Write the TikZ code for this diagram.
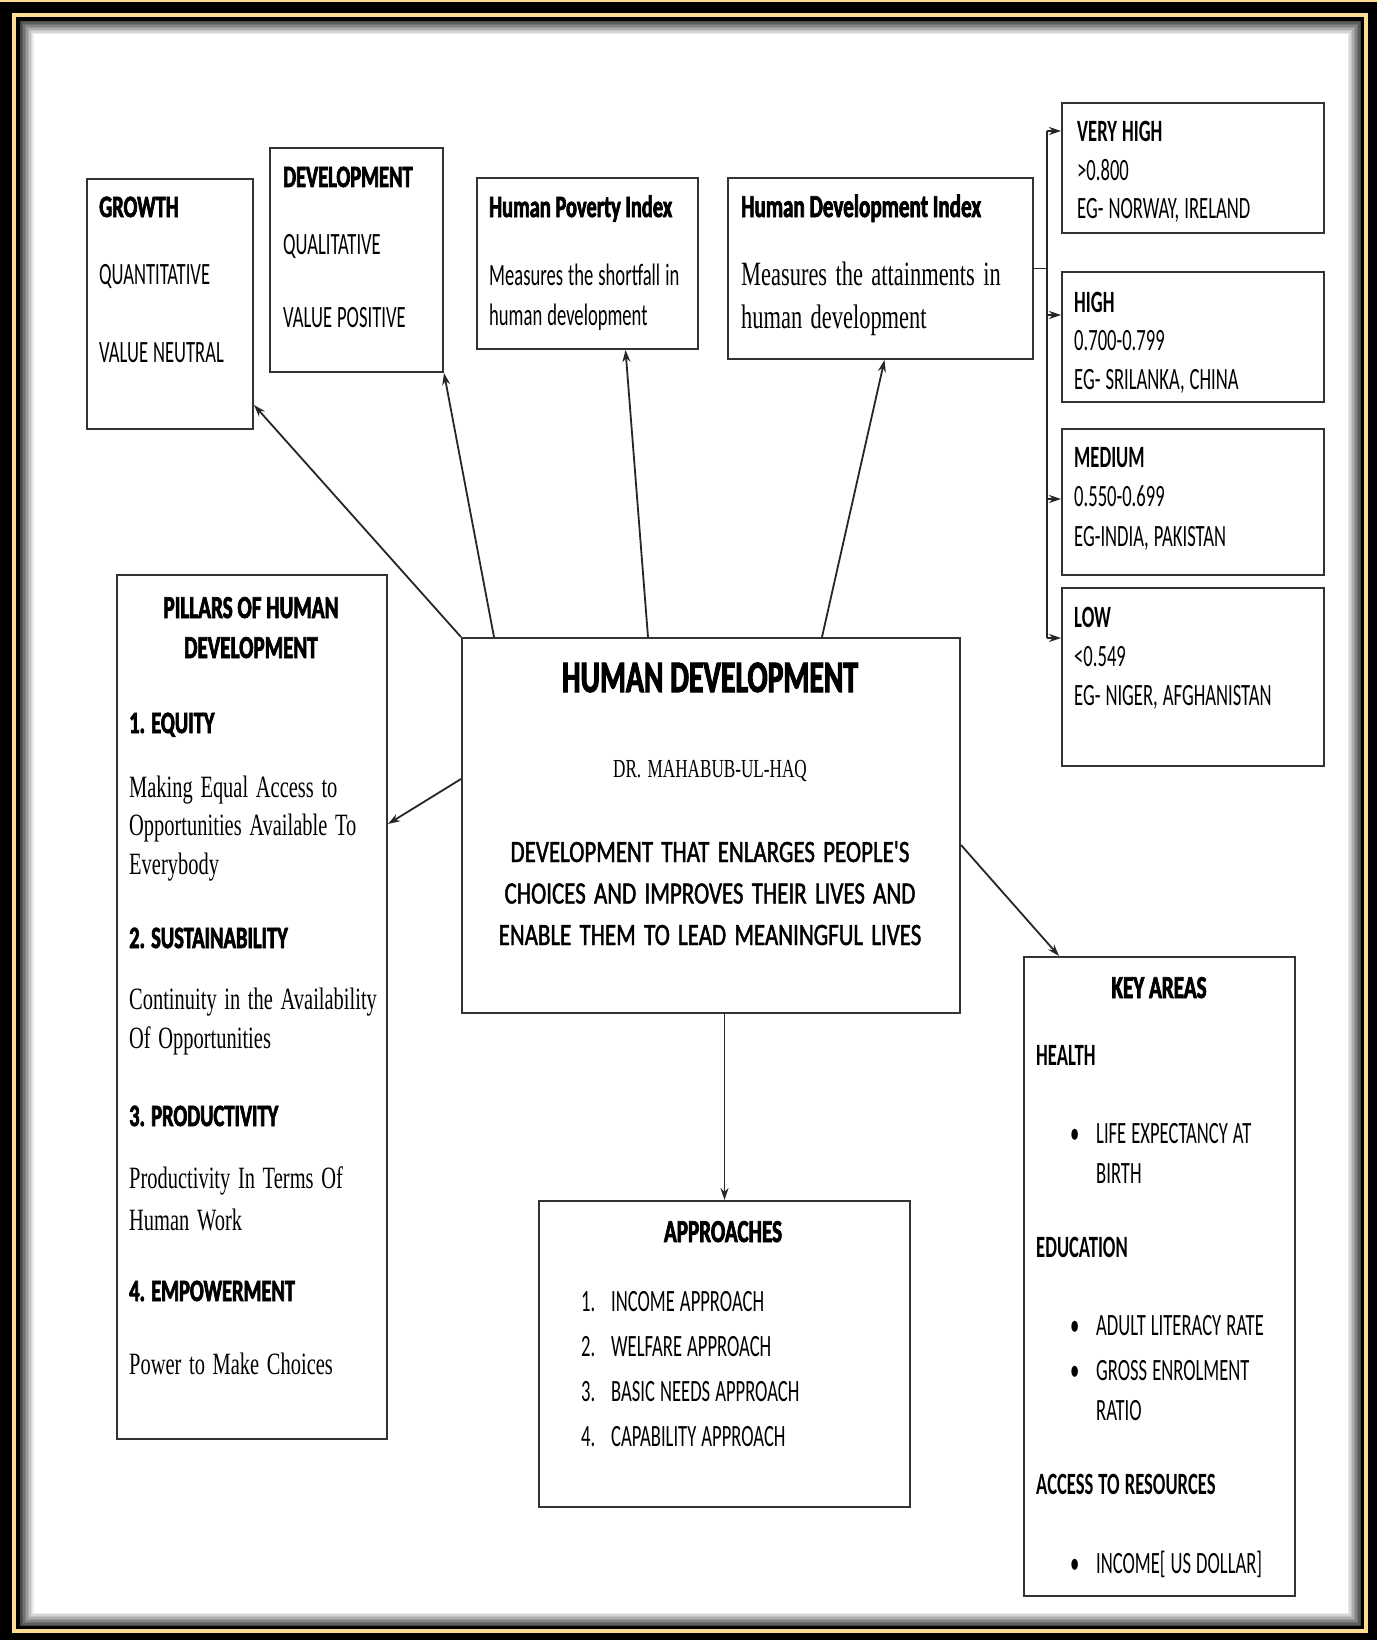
\documentclass[tikz,border=0pt]{standalone}
\usepackage{fontspec}
\setmainfont{Carlito}[FakeStretch=0.6,WordSpace=1.2]
\newfontfamily\heavyfont{Carlito}[FakeStretch=0.66,FakeBold=2.2]
\newfontfamily\descfont{Liberation Serif}[FakeStretch=0.66,WordSpace=1.5]
\newfontfamily\comicfont{Carlito}[FakeStretch=0.74,FakeBold=1.4,WordSpace=1.6]
\usetikzlibrary{arrows.meta,calc}
\definecolor{framegold}{RGB}{252,222,142}
\newcommand{\headtxt}{\heavyfont\bfseries}
\newcommand{\keybullet}{\hspace*{34pt}\makebox[26pt][l]{\textbullet}}

\begin{document}
\begin{tikzpicture}[x=1pt, y=-1pt,
  box/.style={draw=black!80, line width=2pt, anchor=north west, inner sep=0pt},
  txt/.style={anchor=base west, inner sep=0pt, align=flush left, text width=#1},
  txt/.default=260pt,
  head/.style={anchor=base, inner sep=0pt, align=flush center, text width=#1,
               font=\fontsize{32}{40}\selectfont\headtxt},
  head/.default=250pt,
  arr/.style={-{Stealth[length=12pt,width=8pt]}, line width=1.8pt, black!85},
]
\useasboundingbox (0,0) rectangle (1377,1640);

% frame
\fill[black] (0,0) rectangle (1377,1640);
\fill[framegold] (0,0) rectangle (1377,2);
\draw[framegold, line width=4pt] (14,15.5) rectangle (1366,1631);
\fill[white] (20,21) rectangle (1361,1626);
\foreach \i [evaluate=\i as \s using 72-8*\i] in {0,...,8}
  \draw[black!\s, line width=1.5pt] (20.75+1.5*\i,21.75+1.5*\i) rectangle (1360.25-1.5*\i,1625.25-1.5*\i);

% boxes
\node[box, minimum width=166pt, minimum height=250pt] (growth) at (86,178) {};
\node[box, minimum width=173pt, minimum height=224pt] (devt) at (269,147) {};
\node[box, minimum width=221pt, minimum height=171pt] (hpi) at (476,177) {};
\node[box, minimum width=305pt, minimum height=181pt] (hdi) at (727,177) {};
\node[box, minimum width=262pt, minimum height=130pt] (vhigh) at (1061,102) {};
\node[box, minimum width=262pt, minimum height=130pt] (high) at (1061,271) {};
\node[box, minimum width=262pt, minimum height=146pt] (medium) at (1061,428) {};
\node[box, minimum width=262pt, minimum height=178pt] (low) at (1061,587) {};
\node[box, minimum width=498pt, minimum height=375pt] (hd) at (461,637) {};
\node[box, minimum width=270pt, minimum height=864pt] (pillars) at (116,574) {};
\node[box, minimum width=271pt, minimum height=639pt] (keyareas) at (1023,956) {};
\node[box, minimum width=371pt, minimum height=306pt] (apr) at (538,1200) {};

% top row
\node[txt=160pt, font=\fontsize{31}{38.5}\selectfont] (growthtxt) at (99,217)
  {{\headtxt GROWTH}\\[28.5pt]QUANTITATIVE\\[39.5pt]VALUE NEUTRAL};
\node[txt=160pt, font=\fontsize{31}{38.5}\selectfont] (devttxt) at (283,187)
  {{\headtxt DEVELOPMENT}\\[28.5pt]QUALITATIVE\\[34.5pt]VALUE POSITIVE};
\node[txt=210pt, font=\fontsize{31}{38.5}\selectfont] (hpitxt) at (489,217)
  {{\headtxt Human Poverty Index}\\[29.5pt]Measures the shortfall in\\[1.5pt]human development};
\node[txt=290pt, font=\fontsize{32}{43}\selectfont] (hditxt) at (741,217)
  {{\headtxt Human Development Index}\\[25pt]{\descfont\fontsize{34}{43}\selectfont Measures the attainments in\\human development}};

% HDI ranges
\node[txt, font=\fontsize{31}{38.5}\selectfont] (vhightxt) at (1077,142)
  {{\bfseries VERY HIGH}\\>0.800\\EG- NORWAY, IRELAND};
\node[txt, font=\fontsize{31}{38.5}\selectfont] (hightxt) at (1074,312)
  {{\bfseries HIGH}\\0.700-0.799\\EG- SRILANKA, CHINA};
\node[txt, font=\fontsize{31}{39.5}\selectfont] (mediumtxt) at (1074,467)
  {{\bfseries MEDIUM}\\0.550-0.699\\EG-INDIA, PAKISTAN};
\node[txt, font=\fontsize{31}{39}\selectfont] (lowtxt) at (1074,627)
  {{\bfseries LOW}\\<0.549\\EG- NIGER, AFGHANISTAN};

\coordinate (fork) at ([xshift=13pt]hdi.east);
\draw[line width=1.8pt, black!85] (hdi.east) -- (fork);
\foreach \b/\dy in {vhigh/37pt, high/22pt, medium/3pt, low/39pt}
  \coordinate (\b-tip) at ([yshift=\dy]\b.west);
\draw[line width=1.8pt, black!85] (fork |- vhigh-tip) -- (fork |- low-tip);
\foreach \b in {vhigh, high, medium, low}
  \draw[arr] (fork |- \b-tip) -- (\b-tip);

% centre
\node[anchor=base, inner sep=0pt, font=\fontsize{45}{50}\selectfont\headtxt] (hdtitle) at (710,692)
  {HUMAN DEVELOPMENT};
\node[anchor=base, inner sep=0pt, font=\fontsize{26}{30}\selectfont\descfont] (hdauthor) at (710,777)
  {DR. MAHABUB-UL-HAQ};
\node[anchor=base, inner sep=0pt, align=flush center, text width=470pt,
      font=\fontsize{31}{41.5}\selectfont\comicfont] (hddef) at (710,862)
  {DEVELOPMENT THAT ENLARGES PEOPLE'S\\CHOICES AND IMPROVES THEIR LIVES AND\\ENABLE THEM TO LEAD MEANINGFUL LIVES};

% pillars
\node[head=260pt] (pillarshead) at (251,618) {PILLARS OF HUMAN\\DEVELOPMENT};
\node[txt, font=\fontsize{31}{38.5}\selectfont] (pillarstxt) at (129,733)
  {{\headtxt 1. EQUITY}\\[25.5pt]
   {\descfont Making Equal Access to\\Opportunities Available To\\Everybody}\\[35.5pt]
   {\headtxt 2. SUSTAINABILITY}\\[22.5pt]
   {\descfont Continuity in the Availability\\[0.5pt]Of Opportunities}\\[39.5pt]
   {\headtxt 3. PRODUCTIVITY}\\[23.5pt]
   {\descfont Productivity In Terms Of\\[3.5pt]Human Work}\\[32.5pt]
   {\headtxt 4. EMPOWERMENT}\\[34.5pt]
   {\descfont Power to Make Choices}};

% key areas
\node[head] (keyhead) at (1159,998) {KEY AREAS};
\node[txt, font=\fontsize{31}{40}\selectfont] (keytxt) at (1036,1065)
  {{\bfseries HEALTH}\\[38pt]
   \keybullet LIFE EXPECTANCY AT\\
   \hspace*{60pt}BIRTH\\[34pt]
   {\bfseries EDUCATION}\\[38pt]
   \keybullet ADULT LITERACY RATE\\[5pt]
   \keybullet GROSS ENROLMENT\\
   \hspace*{60pt}RATIO\\[34pt]
   {\bfseries ACCESS TO RESOURCES}\\[39pt]
   \keybullet INCOME[ US DOLLAR]};

% approaches
\node[head] (aprhead) at (723,1242) {APPROACHES};
\node[txt=300pt, font=\fontsize{31}{45.3}\selectfont] (aprtxt) at (581,1311)
  {\makebox[30pt][l]{1.}INCOME APPROACH\\
   \makebox[30pt][l]{2.}WELFARE APPROACH\\
   \makebox[30pt][l]{3.}BASIC NEEDS APPROACH\\
   \makebox[30pt][l]{4.}CAPABILITY APPROACH};

% links from the centre
\draw[arr] (hd.north west) -- ([yshift=25pt]growth.south east);
\draw[arr] ([xshift=33pt]hd.north west) -- (devt.south east);
\draw[arr] ([xshift=187pt]hd.north west) -- ([xshift=38pt]hpi.south);
\draw[arr] ([xshift=361pt]hd.north west) -- ([xshift=4pt]hdi.south);
\draw[arr] ([yshift=-142pt]hd.north west) -- ([yshift=183pt]pillars.east);
\draw[arr] ([yshift=-208pt]hd.north east) -- ([xshift=36pt]keyareas.north west);
\draw[arr] (hd.south -| apr.north) -- (apr.north);
\end{tikzpicture}
\end{document}
